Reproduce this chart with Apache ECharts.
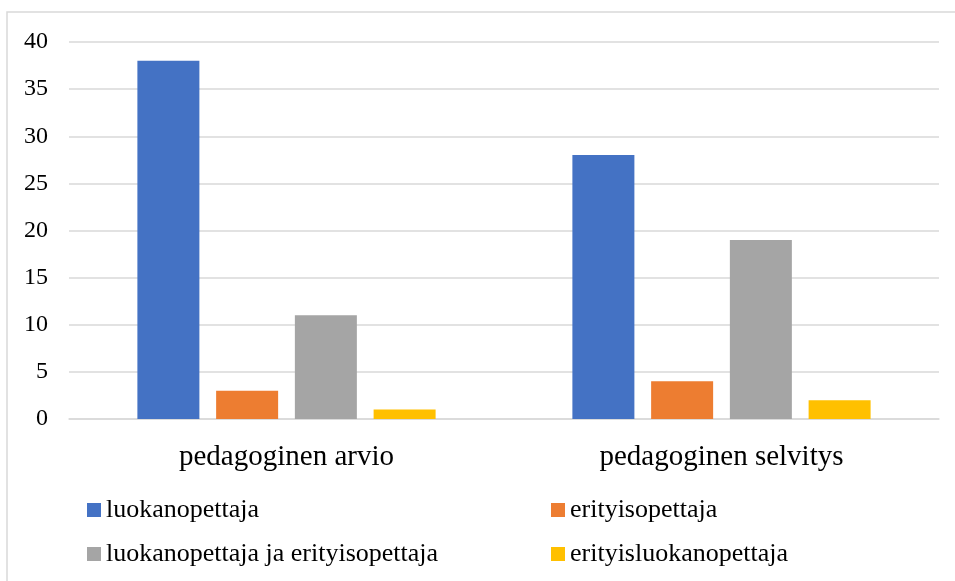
<!DOCTYPE html>
<html><head><meta charset="utf-8">
<script src="https://cdn.jsdelivr.net/npm/echarts@6/dist/echarts.min.js"></script>
<style>html,body{margin:0;padding:0;background:#fff}#c{width:955px;height:581px}</style>
</head><body><div id="c"></div>
<script>
const categories = ['pedagoginen arvio', 'pedagoginen selvitys'];
const seriesNames = ['luokanopettaja', 'erityisopettaja', 'luokanopettaja ja erityisopettaja', 'erityisluokanopettaja'];
const luokanopettaja = [38, 28];
const erityisopettaja = [3, 4];
const molemmat = [11, 19];
const erityisluokanopettaja = [1, 2];
const yTicks = [0, 5, 10, 15, 20, 25, 30, 35, 40];
const colors = ['#4472c4', '#ed7d31', '#a5a5a5', '#ffc000'];
const values = [luokanopettaja, erityisopettaja, molemmat, erityisluokanopettaja];

const font = '"Liberation Serif", "Times New Roman", serif';
const chart = echarts.init(document.getElementById('c'));
const legendCommon = {
  orient: 'vertical', icon: 'rect', itemWidth: 14, itemHeight: 14, itemGap: 18,
  textStyle: { fontFamily: font, fontSize: 26, color: '#000' }, selectedMode: false
};
chart.setOption({
  animation: false,
  textStyle: { fontFamily: font },
  graphic: [{ type: 'rect', shape: { x: 7, y: 12, width: 960, height: 580 },
    style: { fill: 'none', stroke: '#d9d9d9', lineWidth: 1.5 }, silent: true }],
  grid: { left: 69, right: 16, top: 42, bottom: 162 },
  legend: [
    Object.assign({ left: 82, top: 492, data: [seriesNames[0], seriesNames[2]] }, legendCommon),
    Object.assign({ left: 546, top: 492, data: [seriesNames[1], seriesNames[3]] }, legendCommon)
  ],
  xAxis: {
    type: 'category', data: categories,
    axisLine: { lineStyle: { color: '#d9d9d9', width: 1.5 } },
    axisTick: { show: false },
    axisLabel: { fontFamily: font, fontSize: 29, color: '#000', margin: 24 }
  },
  yAxis: {
    type: 'value', min: yTicks[0], max: yTicks[yTicks.length - 1], interval: 5,
    axisLine: { show: false }, axisTick: { show: false },
    axisLabel: { fontFamily: font, fontSize: 24, color: '#000', margin: 21 },
    splitLine: { lineStyle: { color: '#d9d9d9', width: 1.5 } }
  },
  series: seriesNames.map((n, i) => ({
    name: n, type: 'bar', data: values[i], barWidth: 62, barGap: '27%',
    itemStyle: { color: colors[i] }
  }))
});
</script></body></html>
